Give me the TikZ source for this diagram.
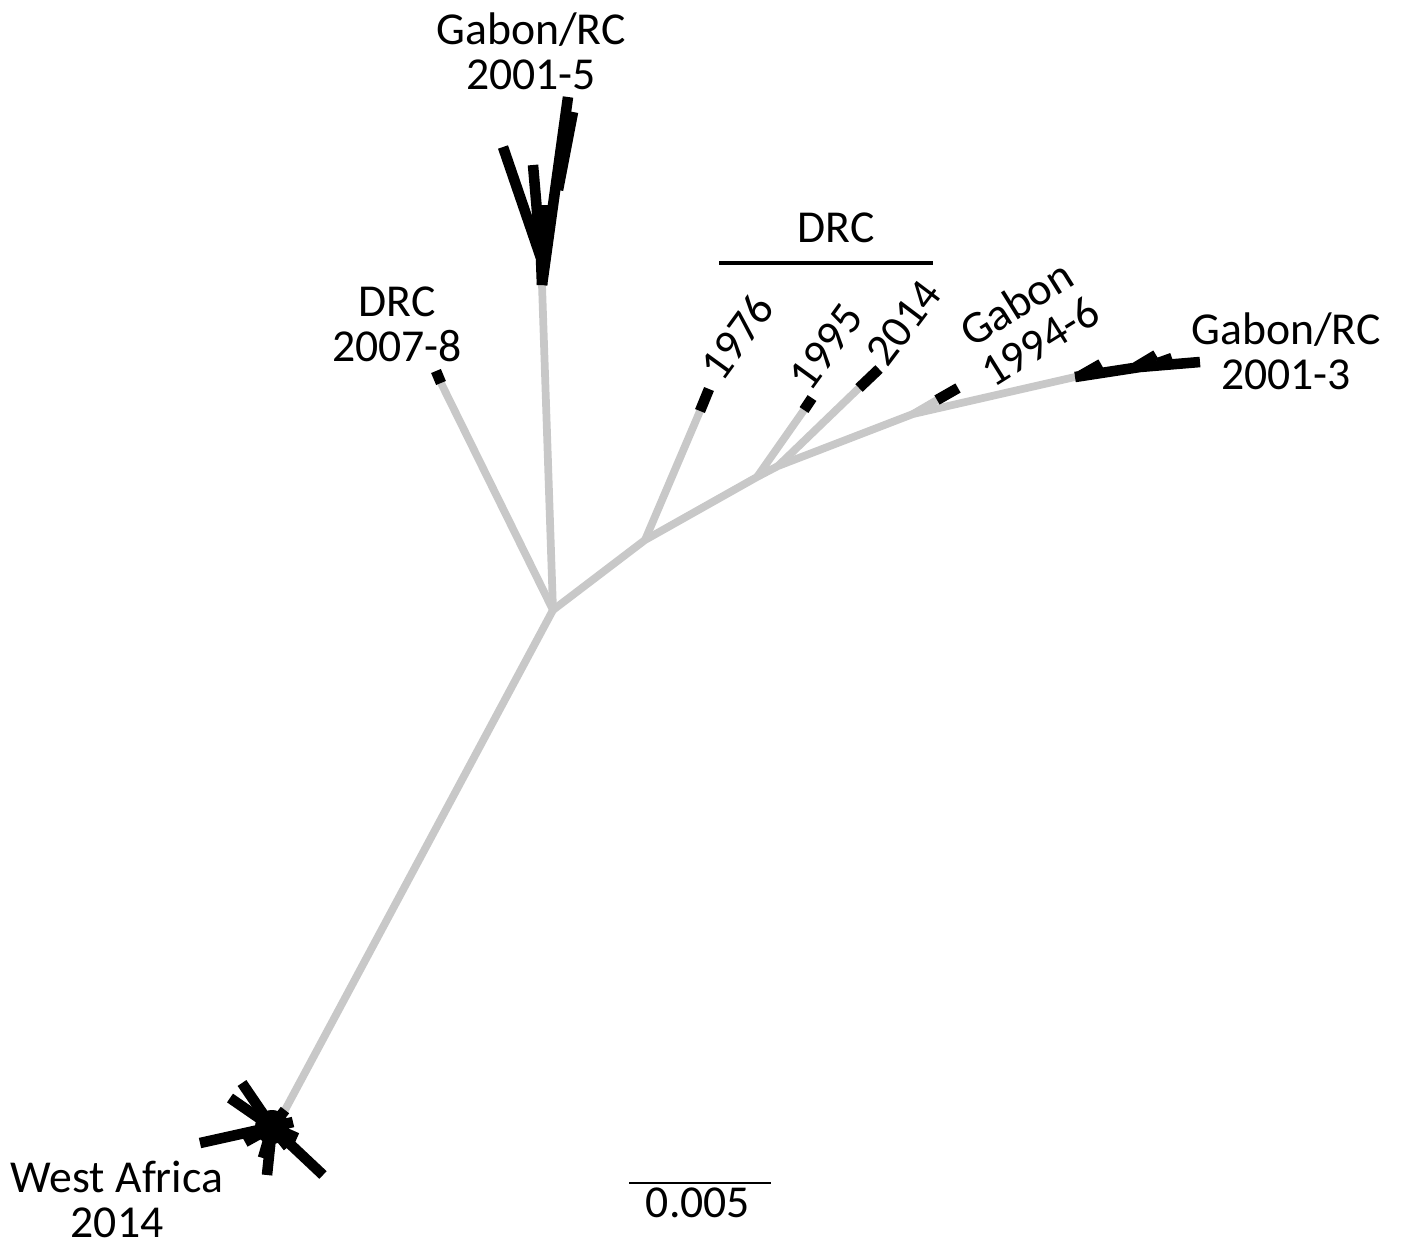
\documentclass[tikz,border=0pt]{standalone}
\usepackage{fontspec}
\setmainfont{Carlito}
\definecolor{branchgray}{RGB}{200,200,200}

\begin{document}
\begin{tikzpicture}[x=0.01cm, y=-0.01cm,
    stem/.style={draw=branchgray, line width=2.2pt},
    leaf/.style={draw=black, line width=3pt},
    lbl/.style={align=center, inner sep=0pt, font=\fontsize{13}{12.8}\selectfont}
]
\useasboundingbox (0,0) rectangle (1403,1245);

% inner nodes
\coordinate (root) at (553,610);
\coordinate (b) at (645,540);
\coordinate (c) at (757,477);
\coordinate (d) at (778,466);
\coordinate (e) at (913,414);
\coordinate (f) at (1075,377);
\coordinate (wa) at (285,1110);
\coordinate (wac) at (272,1127);
\coordinate (g5) at (542,285);
\coordinate (g5j) at (541,258);

% tips and where the black part starts
\coordinate (drc7) at (436,371);   \coordinate (drc7s) at (441,383);
\coordinate (y1976) at (709,389);  \coordinate (y1976s) at (700,411);
\coordinate (y1995) at (812,398);  \coordinate (y1995s) at (804,410);
\coordinate (y2014) at (879,369);  \coordinate (y2014s) at (859,388);
\coordinate (g94) at (958,388);    \coordinate (g94s) at (937,400);
\coordinate (g3) at (1200,362);

% gray backbone
\draw[stem] (wa) -- (root) -- (g5);
\draw[stem] (root) -- (drc7s);
\draw[stem] (root) -- (b) -- (c) -- (d) -- (e) -- (f);
\draw[stem] (b) -- (y1976s);
\draw[stem] (c) -- (y1995s);
\draw[stem] (d) -- (y2014s);
\draw[stem] (e) -- (g94s);

% black tips
\draw[leaf] (drc7s) -- (drc7);
\draw[leaf] (y1976s) -- (y1976);
\draw[leaf] (y1995s) -- (y1995);
\draw[leaf] (y2014s) -- (y2014);
\draw[leaf] (g94s) -- (g94);

% Gabon/RC 2001-5 clade
\draw[leaf] (g5) -- (568,97);
\draw[leaf] (g5) -- (g5j) -- (503,147);
\draw[leaf] (g5j) -- (533,165);
\draw[leaf] (558,190) -- (573,112);
\draw[leaf] (543,245) -- (543,205);

% Gabon/RC 2001-3 clade
\draw[leaf] (f) -- (1140,367) -- (g3);
\draw[leaf] (1080,376) -- (1101,364);
\draw[leaf] (1136,367) -- (1156,355);
\draw[leaf] (1158,363) -- (1172,358);

% West Africa 2014 clade
\draw[leaf] (wa) -- (wac);
\fill (wac) circle (17);
\foreach \p in {(200,1143),(242,1083),(230,1098),(323,1175),(267,1175),
                (263,1158),(245,1142),(293,1122),(288,1147),(297,1138),(254,1110)}
  \draw[leaf] (wac) -- \p;

% DRC bar and scale bar
\coordinate (barL) at (719,263);
\coordinate (barR) at (933,263);
\draw[line width=1.4pt] (barL) -- (barR);
\coordinate (scL) at (629,1183);
\coordinate (scR) at (771,1183);
\draw[line width=0.7pt] (scL) -- (scR);

% labels
\node[lbl] (lgab5) at (531,51) {Gabon/RC\\2001-5};
\node[lbl] (ldrc7) at (397,324) {DRC\\2007-8};
\node[lbl] (ldrc) at (836,228) {DRC};
\node[lbl, rotate=54] (l1976) at (737,337) {1976};
\node[lbl, rotate=54] (l1995) at (826,347) {1995};
\node[lbl, rotate=53] (l2014) at (904,323) {2014};
\node[lbl, rotate=32] (lgab94) at (1028,322) {Gabon\\1994-6};
\node[lbl] (lgab3) at (1286,351) {Gabon/RC\\2001-3};
\node[lbl] (lwa) at (117,1199) {West Africa\\2014};
\node[lbl] (lscale) at (698,1203) {0.005};
\end{tikzpicture}
\end{document}
